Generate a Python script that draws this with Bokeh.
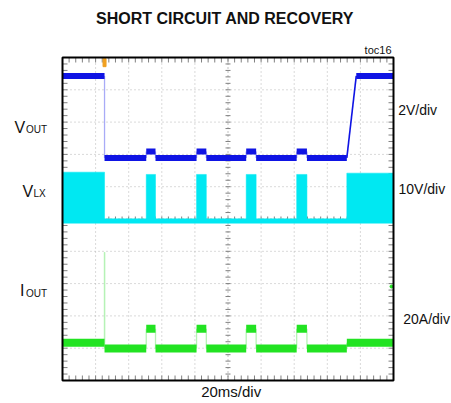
import numpy as np
from bokeh.plotting import figure
from bokeh.models import Label
from bokeh.embed import file_html
from bokeh.resources import INLINE

# Horizontal: time in ms (20 ms/div, 10 divisions). Vertical: scope divisions 0..10.
MS_PER_DIV = 20
X_DIVS = 10
Y_DIVS = 10

# ---- VOUT (blue), 2V/div: breakpoints (ms) and level (div) ----
vout_t = [0, 25.4, 25.4, 50.6, 50.6, 56.2, 56.2, 81.0, 81.0, 86.9, 86.9,
          111.0, 111.0, 117.0, 117.0, 141.5, 141.5, 147.7, 147.7, 171.8, 177.5, 200]
vout_y = [9.43, 9.43, 6.89, 6.89, 7.09, 7.09, 6.89, 6.89, 7.09, 7.09, 6.89,
          6.89, 7.09, 7.09, 6.89, 6.89, 7.09, 7.09, 6.89, 6.89, 9.43, 9.43]

# ---- VLX (cyan), 10V/div: baseline and switching bursts ----
vlx_base = 4.94
vlx_on_start = [0, 50.6, 81.0, 111.0, 141.5, 171.8]
vlx_on_end = [25.4, 56.2, 86.9, 117.0, 147.7, 200]
vlx_on_top = [6.45, 6.38, 6.38, 6.38, 6.38, 6.42]

# ---- IOUT (green), 20A/div ----
iout_t = [0, 25.4, 25.4, 25.4, 50.6, 50.6, 56.2, 56.2, 81.0, 81.0, 86.9, 86.9,
          111.0, 111.0, 117.0, 117.0, 141.5, 141.5, 147.7, 147.7, 171.8, 171.8, 200]
iout_y = [1.17, 1.17, 3.97, 0.99, 0.99, 1.60, 1.60, 0.99, 0.99, 1.60, 1.60, 0.99,
          0.99, 1.60, 1.60, 0.99, 0.99, 1.60, 1.60, 0.99, 0.99, 1.17, 1.17]

trigger_t = 25.4
iout_marker = (198.8, 2.91)

BLUE = "#0f14e4"
CYAN = "#00e8f2"
GREEN = "#22e322"

X_MAX = MS_PER_DIV * X_DIVS

# The plotting frame spans the whole page; the scope screen is 0..200 ms x 0..10 div.
W, H = 451, 403
SCR_L, SCR_R, SCR_T, SCR_B = 62, 393, 57, 380   # screen edges in page px
kx = X_MAX / (SCR_R - SCR_L)
ky = Y_DIVS / (SCR_B - SCR_T)
x_range = (-SCR_L * kx, (W - SCR_L) * kx)
y_range = (-(H - SCR_B) * ky, Y_DIVS + SCR_T * ky)

p = figure(width=W, height=H, x_range=x_range, y_range=y_range, title=None,
           x_axis_type=None, y_axis_type=None, toolbar_location=None,
           output_backend="svg", min_border=0)
p.outline_line_color = None
p.background_fill_color = "white"
p.border_fill_color = "white"
p.grid.visible = False

# ---- graticule ----
gx = [i * MS_PER_DIV for i in range(1, X_DIVS)]
gy = [j for j in range(1, Y_DIVS)]
gcol_x = ["#808080" if i == X_DIVS // 2 else "#b4b4b4" for i in range(1, X_DIVS)]
gcol_y = ["#808080" if j == Y_DIVS // 2 else "#b4b4b4" for j in range(1, Y_DIVS)]
p.segment(x0=gx, y0=0, x1=gx, y1=Y_DIVS, line_color=gcol_x, line_dash="1 3", line_width=1)
p.segment(x0=0, y0=gy, x1=X_MAX, y1=gy, line_color=gcol_y, line_dash="1 3", line_width=1)

sub_x = np.arange(0, X_MAX + 0.01, MS_PER_DIV / 5)
sub_y = np.arange(0, Y_DIVS + 0.01, 0.2)
tx = 2.5 * kx   # tick half length
ty = 2.5 * ky
cx, cy = X_MAX / 2, Y_DIVS / 2
p.segment(x0=sub_x, y0=cy - ty, x1=sub_x, y1=cy + ty, line_color="#808080", line_width=1)
p.segment(x0=cx - tx, y0=sub_y, x1=cx + tx, y1=sub_y, line_color="#808080", line_width=1)
p.segment(x0=sub_x, y0=0, x1=sub_x, y1=2 * ty, line_color="#808080", line_width=1)
p.segment(x0=sub_x, y0=Y_DIVS, x1=sub_x, y1=Y_DIVS - 2 * ty, line_color="#808080", line_width=1)
p.segment(x0=0, y0=sub_y, x1=2 * tx, y1=sub_y, line_color="#808080", line_width=1)
p.segment(x0=X_MAX, y0=sub_y, x1=X_MAX - 2 * tx, y1=sub_y, line_color="#808080", line_width=1)


def draw_trace(t, y, color, pale, width):
    flat = [(t[i - 1], t[i], y[i]) for i in range(1, len(t)) if y[i] == y[i - 1]]
    steps = [(t[i - 1], y[i - 1], t[i], y[i]) for i in range(1, len(t)) if y[i] != y[i - 1]]
    fast = [s for s in steps if s[0] == s[2]]
    slow = [s for s in steps if s[0] != s[2]]
    if fast:
        p.segment(x0=[s[0] for s in fast], y0=[s[1] for s in fast],
                  x1=[s[2] for s in fast], y1=[s[3] for s in fast],
                  line_color=pale, line_width=1.3)
    if slow:
        p.segment(x0=[s[0] for s in slow], y0=[s[1] for s in slow],
                  x1=[s[2] for s in slow], y1=[s[3] for s in slow],
                  line_color=color, line_width=1.6)
    p.segment(x0=[f[0] for f in flat], y0=[f[2] for f in flat],
              x1=[f[1] for f in flat], y1=[f[2] for f in flat],
              line_color=color, line_width=width, line_cap="butt")


# VLX bursts
p.quad(left=vlx_on_start, right=vlx_on_end, bottom=vlx_base, top=vlx_on_top,
       fill_color=CYAN, line_color=CYAN, line_width=0.5)
p.segment(x0=[0], y0=[vlx_base], x1=[X_MAX], y1=[vlx_base], line_color=CYAN, line_width=5)

draw_trace(vout_t, vout_y, BLUE, "#a9abf7", 6)
draw_trace(iout_t, iout_y, GREEN, "#b6f2b6", 8)

# markers
p.rect(x=[trigger_t], y=[Y_DIVS - 0.16], width=3, height=8,
       width_units="screen", height_units="screen",
       fill_color="#f0a020", line_color="#f0a020")
p.scatter(x=[iout_marker[0]], y=[iout_marker[1]], size=3, marker="circle",
          fill_color=GREEN, line_color=GREEN)

# screen border
p.quad(left=[0], right=[X_MAX], bottom=[0], top=[Y_DIVS], fill_color=None,
       line_color="black", line_width=2)

# ---- texts ----
FONT = "Liberation Sans"
TXT = "#111111"


def lab(x, y, text, size, align="left", style="normal"):
    p.add_layout(Label(x=x, y=y, text=text, text_font=FONT, text_font_size=size,
                       text_color=TXT, text_align=align, text_baseline="alphabetic",
                       text_font_style=style))


lab(98.2, 11.20, "SHORT CIRCUIT AND RECOVERY", "16px", align="center", style="bold")
lab(198.8, 10.22, "toc16", "11px", align="right")

lab(-29.0, 7.83, "V", "16px")
lab(-22.05, 7.76, "OUT", "10px")
lab(-24.17, 5.85, "V", "16px")
lab(-17.52, 5.79, "LX", "10px")
lab(-25.68, 2.79, "I", "16px")
lab(-22.05, 2.69, "OUT", "10px")

lab(202.8, 8.36, "2V/div", "14px")
lab(203.0, 5.94, "10V/div", "14px")
lab(205.9, 1.91, "20A/div", "14px")
lab(101.9, -0.34, "20ms/div", "15px", align="center")

open("out.html", "w").write(file_html(p, INLINE))
